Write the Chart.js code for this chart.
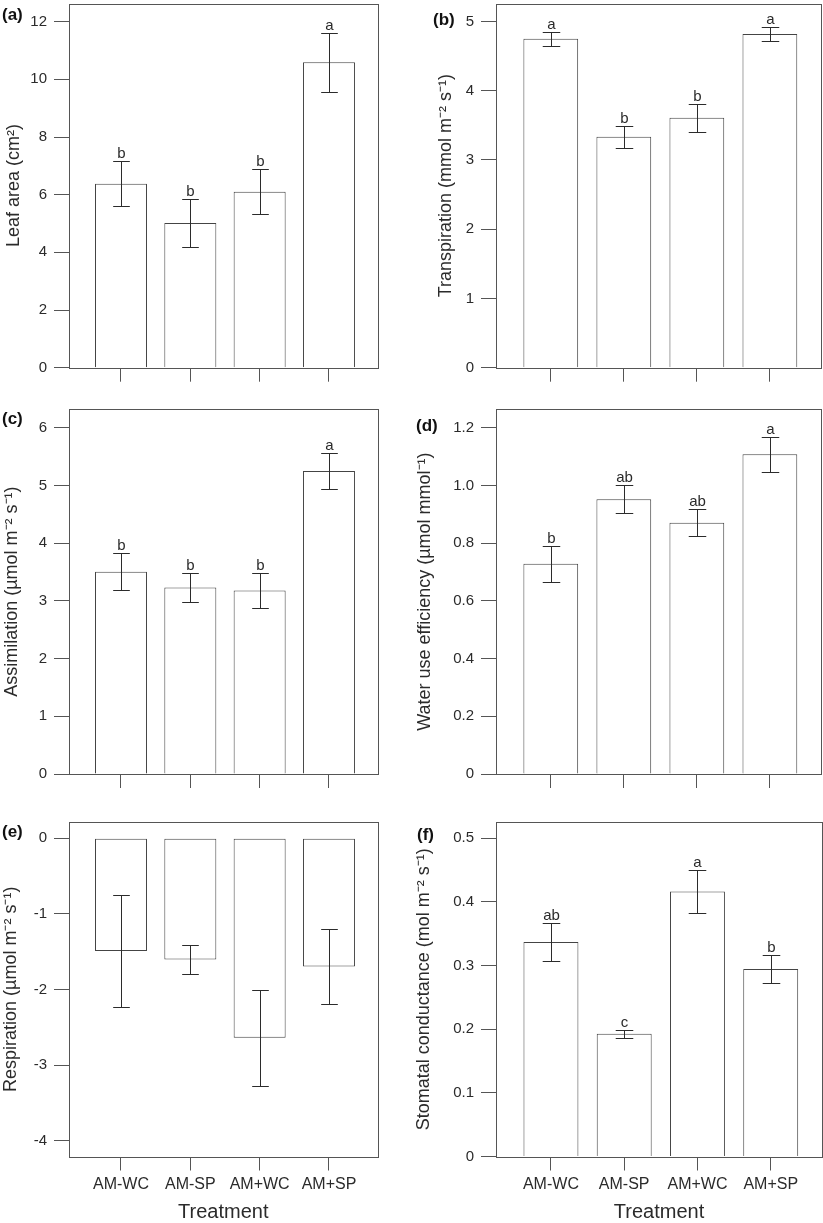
<!DOCTYPE html>
<html>
<head>
<meta charset="utf-8">
<script src="https://cdn.jsdelivr.net/npm/chart.js@4.4.0/dist/chart.umd.min.js"></script>
<style>
  body { margin: 0; background: #fff; }
  #fig { position: relative; width: 823px; height: 1223px; background: #fff; }
  #fig canvas { position: absolute; }
</style>
</head>
<body>
<div id="fig">
  <canvas id="chartA" width="411" height="400" style="left:0;top:0"></canvas>
  <canvas id="chartB" width="412" height="400" style="left:411px;top:0"></canvas>
  <canvas id="chartC" width="411" height="390" style="left:0;top:400px"></canvas>
  <canvas id="chartD" width="412" height="390" style="left:411px;top:400px"></canvas>
  <canvas id="chartE" width="411" height="433" style="left:0;top:790px"></canvas>
  <canvas id="chartF" width="412" height="433" style="left:411px;top:790px"></canvas>
</div>
<script>
// Treatments (x axis)
const treatments = ["AM-WC", "AM-SP", "AM+WC", "AM+SP"];

// (a) leaf area
const leafArea = [6.38, 5.02, 6.10, 10.59];
const leafAreaErr = [0.78, 0.84, 0.78, 1.02];
const leafAreaLetters = ["b", "b", "b", "a"];
const leafAreaTicks = [0, 2, 4, 6, 8, 10, 12];

// (b) transpiration
const transpiration = [4.75, 3.335, 3.61, 4.82];
const transpirationErr = [0.105, 0.155, 0.205, 0.095];
const transpirationLetters = ["a", "b", "b", "a"];
const transpirationTicks = [0, 1, 2, 3, 4, 5];

// (c) assimilation
const assimilation = [3.505, 3.23, 3.18, 5.25];
const assimilationErr = [0.325, 0.245, 0.30, 0.305];
const assimilationLetters = ["b", "b", "b", "a"];
const assimilationTicks = [0, 1, 2, 3, 4, 5, 6];

// (d) water use efficiency
const wue = [0.729, 0.952, 0.871, 1.108];
const wueErr = [0.062, 0.048, 0.046, 0.060];
const wueLetters = ["b", "ab", "ab", "a"];
const wueTicks = [0, 0.2, 0.4, 0.6, 0.8, 1.0, 1.2];
const wueTickLabels = ["0", "0.2", "0.4", "0.6", "0.8", "1.0", "1.2"];

// (e) respiration
const respiration = [-1.49, -1.604, -2.639, -1.697];
const respirationErr = [0.742, 0.19, 0.637, 0.493];
const respirationTicks = [0, -1, -2, -3, -4];

// (f) stomatal conductance
const conductance = [0.337, 0.1928, 0.4164, 0.2947];
const conductanceErr = [0.0297, 0.0063, 0.0342, 0.0217];
const conductanceLetters = ["ab", "c", "a", "b"];
const conductanceTicks = [0, 0.1, 0.2, 0.3, 0.4, 0.5];

const FONT = "'Liberation Sans', Arial, Helvetica, sans-serif";
const INK = "#2b2b2b";
const LINE = "#555";

// no extra room for the end labels, the plot box is placed by hand
function noPad(s) {
  s.paddingTop = 0; s.paddingBottom = 0;
  s.paddingLeft = 0; s.paddingRight = 0;
}

function makePanel(id, p) {
  const labels = p.tickLabels || p.ticks.map(v => String(v));

  // error bars, letters, frame and panel tag
  const extras = {
    id: "extras",
    afterDatasetsDraw(chart) {
      const ctx = chart.ctx;
      const xs = chart.scales.x, ys = chart.scales.y;
      const bars = chart.getDatasetMeta(0).data;
      ctx.save();
      ctx.strokeStyle = INK;
      ctx.lineWidth = 1;
      ctx.fillStyle = INK;
      ctx.font = "15px " + FONT;
      ctx.textAlign = "center";
      ctx.textBaseline = "alphabetic";
      p.values.forEach((v, i) => {
        const px = Math.round(xs.getPixelForValue(i + 1)) + 0.5;
        const hi = Math.round(ys.getPixelForValue(v + p.errors[i])) + 0.5;
        const lo = Math.round(ys.getPixelForValue(v - p.errors[i])) + 0.5;
        const cap = bars[i].width * 0.16;
        ctx.beginPath();
        ctx.moveTo(px, hi); ctx.lineTo(px, lo);
        ctx.moveTo(px - cap, hi); ctx.lineTo(px + cap, hi);
        ctx.moveTo(px - cap, lo); ctx.lineTo(px + cap, lo);
        ctx.stroke();
        if (p.letters) ctx.fillText(p.letters[i], px, hi - 4);
      });
      const a = chart.chartArea;
      ctx.strokeStyle = LINE;
      ctx.strokeRect(Math.round(a.left) + 0.5, Math.round(a.top) + 0.5,
        Math.round(a.right - a.left), Math.round(a.bottom - a.top));
      ctx.font = "bold 17px " + FONT;
      ctx.textAlign = "left";
      ctx.textBaseline = "middle";
      ctx.fillStyle = "#111";
      ctx.fillText(p.tag, p.tagX, p.tagY);
      ctx.restore();
    }
  };

  return new Chart(document.getElementById(id), {
    type: "bar",
    data: {
      datasets: [{
        data: p.values.map((v, i) => ({ x: i + 1, y: v })),
        backgroundColor: "#ffffff",
        borderColor: "#444",
        borderWidth: 1,
        // base edge sits on the frame when the axis starts at 0
        borderSkipped: p.min < 0 ? false : "start",
        barPercentage: 0.75,
        categoryPercentage: 1
      }]
    },
    options: {
      responsive: false,
      devicePixelRatio: 1,
      animation: false,
      events: [],
      layout: { padding: { left: 0, top: p.top, right: p.right, bottom: 0 } },
      plugins: { legend: { display: false }, tooltip: { enabled: false } },
      scales: {
        x: {
          type: "linear",
          min: 0.25,
          max: 4.7,
          offset: false,
          afterBuildTicks: s => { s.ticks = treatments.map((t, i) => ({ value: i + 1 })); },
          afterFit: s => { s.height = p.xHeight; noPad(s); },
          grid: { drawOnChartArea: false, drawTicks: true, tickLength: 14, color: LINE, offset: false },
          border: { display: false },
          ticks: {
            display: p.showX,
            autoSkip: false,
            maxRotation: 0,
            callback: (v, i) => treatments[i],
            font: { family: FONT, size: 16 },
            color: INK,
            padding: 4
          },
          title: {
            display: p.showX,
            text: "Treatment",
            font: { family: FONT, size: 20, lineHeight: 1 },
            color: INK,
            padding: { top: 0, bottom: 1 }
          }
        },
        y: {
          min: p.min,
          max: p.max,
          afterBuildTicks: s => { s.ticks = p.ticks.map(v => ({ value: v })); },
          afterFit: s => { s.width = p.yWidth; noPad(s); },
          grid: { drawOnChartArea: false, drawTicks: true, tickLength: 15, color: LINE },
          border: { display: false },
          ticks: {
            callback: (v, i) => labels[i],
            font: { family: FONT, size: 15 },
            color: INK,
            padding: 7
          },
          title: {
            display: true,
            text: p.title,
            font: { family: FONT, size: 18, lineHeight: 1 },
            color: INK,
            padding: { top: p.titlePad, bottom: 0 }
          }
        }
      }
    },
    plugins: [extras]
  });
}

makePanel("chartA", {
  values: leafArea, errors: leafAreaErr, letters: leafAreaLetters,
  ticks: leafAreaTicks, min: 0, max: 12.63,
  title: "Leaf area (cm²)", tag: "(a)", tagX: 2, tagY: 15,
  top: 3.5, right: 33.5, xHeight: 32.3, yWidth: 69, titlePad: 5.5, showX: false
});

makePanel("chartB", {
  values: transpiration, errors: transpirationErr, letters: transpirationLetters,
  ticks: transpirationTicks, min: 0, max: 5.26,
  title: "Transpiration (mmol m⁻² s⁻¹)", tag: "(b)", tagX: 22, tagY: 20,
  top: 3.5, right: 2, xHeight: 32.3, yWidth: 85, titlePad: 26, showX: false
});

makePanel("chartC", {
  values: assimilation, errors: assimilationErr, letters: assimilationLetters,
  ticks: assimilationTicks, min: 0, max: 6.32,
  title: "Assimilation (µmol m⁻² s⁻¹)", tag: "(c)", tagX: 2, tagY: 19,
  top: 9.3, right: 33.5, xHeight: 16, yWidth: 69, titlePad: 2.7, showX: false
});

makePanel("chartD", {
  values: wue, errors: wueErr, letters: wueLetters,
  ticks: wueTicks, tickLabels: wueTickLabels, min: 0, max: 1.264,
  title: "Water use efficiency (µmol mmol⁻¹)", tag: "(d)", tagX: 5, tagY: 26,
  top: 9.3, right: 2, xHeight: 16, yWidth: 85, titlePad: 5.5, showX: false
});

makePanel("chartE", {
  values: respiration, errors: respirationErr, letters: null,
  ticks: respirationTicks, min: -4.21, max: 0.216,
  title: "Respiration (µmol m⁻² s⁻¹)", tag: "(e)", tagX: 2, tagY: 42,
  top: 32, right: 33.5, xHeight: 66.5, yWidth: 69, titlePad: 1.7, showX: true
});

makePanel("chartF", {
  values: conductance, errors: conductanceErr, letters: conductanceLetters,
  ticks: conductanceTicks, min: 0, max: 0.5256,
  title: "Stomatal conductance (mol m⁻² s⁻¹)", tag: "(f)", tagX: 6, tagY: 45,
  top: 32, right: 1, xHeight: 66.5, yWidth: 85, titlePad: 4.5, showX: true
});
</script>
</body>
</html>
